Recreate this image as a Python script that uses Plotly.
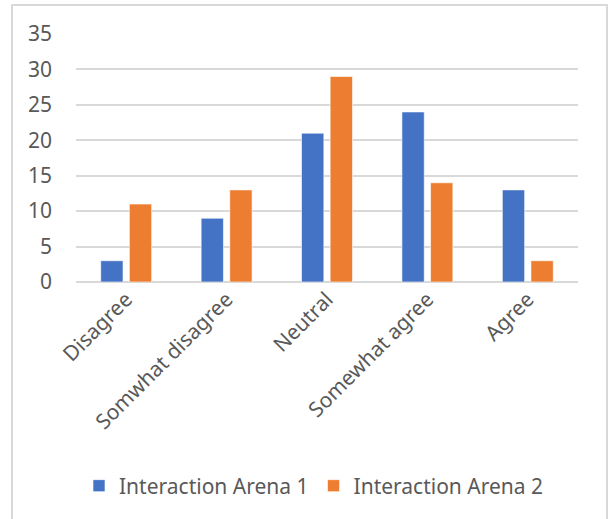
import plotly.graph_objects as go

categories = ["Disagree", "Somwhat disagree", "Neutral", "Somewhat agree", "Agree"]
arena1 = [3, 9, 21, 24, 13]
arena2 = [11, 13, 29, 14, 3]
series_names = ["Interaction Arena 1", "Interaction Arena 2"]
tick_vals = [0, 5, 10, 15, 20, 25, 30, 35]

FONT = "Noto Sans"
GRAY = "#595959"
FS = 21

fig = go.Figure()
fig.add_trace(go.Bar(x=categories, y=arena1, name=series_names[0],
                     marker=dict(color="#4472C4", line=dict(color="rgba(255,255,255,0.6)", width=1))))
fig.add_trace(go.Bar(x=categories, y=arena2, name=series_names[1],
                     marker=dict(color="#ED7D31", line=dict(color="rgba(255,255,255,0.6)", width=1))))

L, R, T, B = 76, 34, 34, 237
W, H = 612, 519
pw, ph = W - L - R, H - T - B

fig.update_layout(
    width=W, height=H,
    margin=dict(l=L, r=R, t=T, b=B, pad=0),
    paper_bgcolor="white", plot_bgcolor="white",
    barmode="group", bargap=0.43, bargroupgap=0.22,
    font=dict(family=FONT, size=FS, color=GRAY),
    showlegend=True,
    legend=dict(orientation="h", x=(314 - L) / pw, xanchor="center",
                y=(ph - (486 - T)) / ph, yanchor="middle",
                font=dict(size=FS, color=GRAY), itemwidth=30,
                traceorder="normal"),
    xaxis=dict(tickangle=-45, showgrid=False, showline=False, ticks="",
               tickfont=dict(size=FS, color=GRAY)),
    yaxis=dict(range=[0, 35], tickvals=tick_vals, showgrid=True,
               gridcolor="#D9D9D9", gridwidth=2, zeroline=True,
               zerolinecolor="#D9D9D9", zerolinewidth=2, showline=False,
               ticks="", ticklabelstandoff=23,
               tickfont=dict(size=FS, color=GRAY)),
    shapes=[dict(type="rect", xref="paper", yref="paper",
                 x0=(12 - L) / pw, x1=(607 - L) / pw,
                 y0=(ph - (525 - T)) / ph, y1=(ph - (5 - T)) / ph,
                 line=dict(color="#D9D9D9", width=2), fillcolor="rgba(0,0,0,0)",
                 layer="below")],
)

fig.write_html("out.html")
